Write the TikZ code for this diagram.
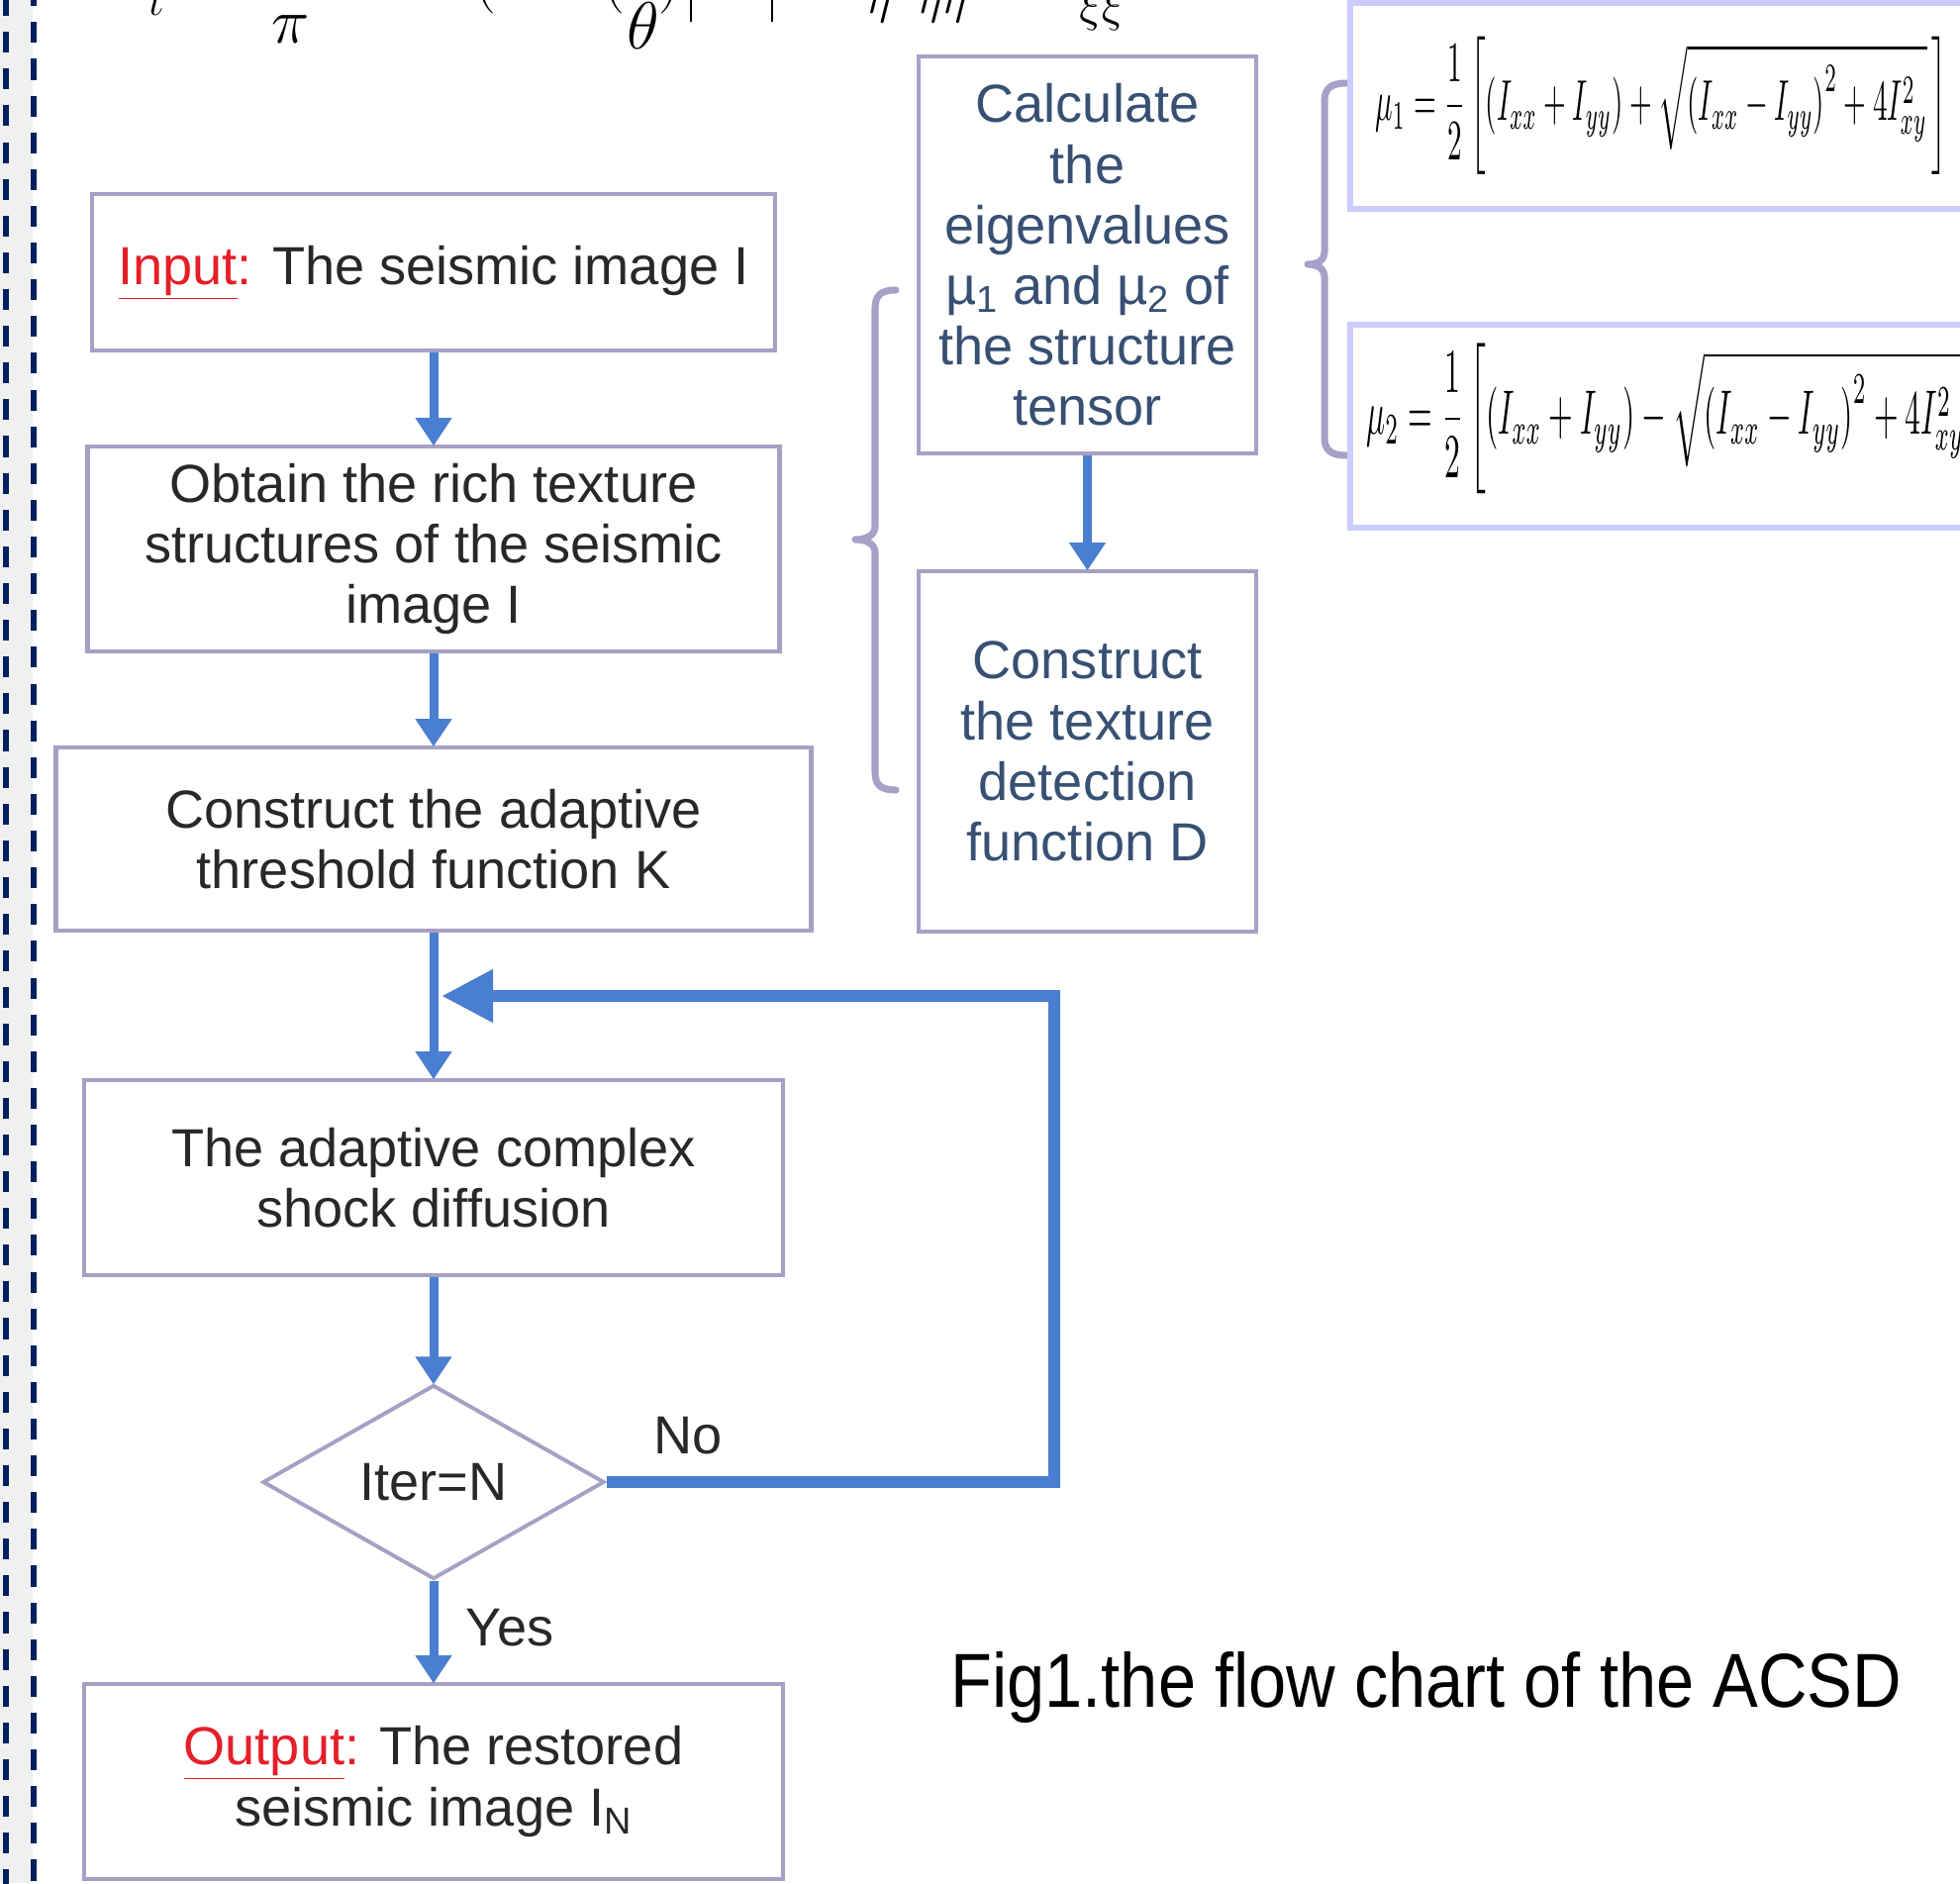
\RequirePackage{fix-cm}
\documentclass[tikz,border=0pt]{standalone}
\usepackage{fontspec}
\usepackage{graphicx}
\setmainfont{Liberation Sans}
\usetikzlibrary{arrows.meta,shapes.geometric}
\definecolor{boxline}{RGB}{167,160,196}
\definecolor{arrblue}{RGB}{74,126,208}
\definecolor{navy}{RGB}{0,32,96}
\definecolor{txtgray}{RGB}{40,40,40}
\definecolor{txtblue}{RGB}{55,80,115}
\definecolor{inred}{RGB}{230,30,40}
\definecolor{fbox}{RGB}{204,204,255}
\definecolor{stripgray}{RGB}{240,240,240}
\definecolor{bracecol}{RGB}{168,160,200}
\tikzset{
  flowbox/.style={draw=boxline, line width=3pt, fill=white, align=center, inner sep=0pt,
    text=txtgray, font=\fontsize{38.5}{43.5}\selectfont},
  rightbox/.style={flowbox, text=txtblue},
  decision/.style={diamond, draw=boxline, line width=2.8pt, inner sep=0pt, aspect=1.76,
    minimum width=245.4pt, minimum height=139.4pt, text=txtgray, font=\fontsize{38.5}{43.5}\selectfont},
  arr/.style={draw=arrblue, line width=6.4pt, -{Triangle[width=25pt,length=20pt]}, shorten >=-1pt},
  fb/.style={draw=arrblue, line width=8.5pt, -{Triangle[width=36pt,length=37pt]}},
  lbl/.style={text=txtgray, font=\fontsize{38.5}{43.5}\selectfont, inner sep=0pt},
  brace/.style={draw=bracecol, line width=5pt, line cap=round, line join=round},
  formbox/.style={draw=fbox, line width=4.3pt},
  frag/.style={inner sep=0pt, text=black}
}
\newcommand{\redlbl}[1]{\textcolor{inred}{\underline{#1}:}}
\begin{document}
\begin{tikzpicture}[x=0.025cm, y=-0.025cm]
\useasboundingbox (0,0) rectangle (1980,1902);
\clip (0,0) rectangle (1980,1902);
% left strip
\fill[stripgray] (0,0) rectangle (33,1902);
\draw[navy, line width=4.3pt, dash pattern=on 15pt off 11.4pt] (6,-5) -- (6,1910);
\draw[navy, line width=4.3pt, dash pattern=on 15pt off 11.4pt, dash phase=7pt] (34,-5) -- (34,1910);
% top formula fragment (cut off)
\node[frag, font=\fontsize{32}{32}\selectfont] (fragt) at (158,2) {$t$};
\node[frag, font=\fontsize{46}{46}\selectfont] (fragpi) at (294,30) {$\pi$};
\node[frag, font=\fontsize{44}{44}\selectfont, anchor=south] (fragp1) at (490,14) {$($};
\node[frag, font=\fontsize{44}{44}\selectfont, anchor=south] (fragp2) at (620,14) {$($};
\node[frag, font=\fontsize{48}{48}\selectfont] (fragth) at (650,26) {$\theta$};
\node[frag, font=\fontsize{44}{44}\selectfont, anchor=south] (fragp3) at (676,14) {$)$};
\draw[line width=1.6pt] (698,-2) -- (698,22);
\draw[line width=1.6pt] (780,-2) -- (780,22);
\node[frag, font=\fontsize{34}{34}\selectfont] (frageta) at (888,8) {$\eta$};
\node[frag, font=\fontsize{34}{34}\selectfont] (fragetaeta) at (952,8) {$\eta\eta$};
\node[frag, font=\fontsize{34}{34}\selectfont] (fragxi) at (1113,10) {$\xi\xi$};
% flow boxes
\node[flowbox, minimum width=490.8pt, minimum height=112.4pt] (A) at (438,275)
  {\redlbl{Input} The seismic image I};
\node[flowbox, minimum width=497.2pt, minimum height=147.2pt] (B) at (438,554.5)
  {Obtain the rich texture\\structures of the seismic\\image I};
\node[flowbox, minimum width=542.7pt, minimum height=131.6pt] (C) at (438,847.5)
  {Construct the adaptive\\threshold function K};
\node[flowbox, minimum width=502.2pt, minimum height=140.1pt] (D) at (438,1189.5)
  {The adaptive complex\\shock diffusion};
\node[decision] (dia) at (438,1497) {Iter=N};
\node[flowbox, minimum width=502.2pt, minimum height=140.1pt] (E) at (438,1799.5)
  {\redlbl{Output} The restored\\seismic image I\textsubscript{N}};
\node[rightbox, minimum width=242.6pt, minimum height=285.2pt] (F) at (1098.5,257.5)
  {Calculate\\the\\eigenvalues\\µ\textsubscript{1} and µ\textsubscript{2} of\\the structure\\tensor};
\node[rightbox, minimum width=242.6pt, minimum height=258.9pt] (G) at (1098.5,759)
  {Construct\\the texture\\detection\\function D};
% connectors
\draw[arr] (A) -- (B);
\draw[arr] (B) -- (C);
\draw[arr] (C) -- (D);
\draw[arr] (D) -- (dia);
\draw[arr] (dia) -- (E);
\draw[arr] (F) -- (G);
\coordinate (join) at (446,1006);
\coordinate (fbturn) at (1065,1006);
\draw[fb] (dia.east) -| (fbturn) -- (join);
\node[lbl] (no) at (695,1450) {No};
\node[lbl] (yes) at (515,1644) {Yes};
% braces
\draw[brace] (905,293) .. controls (890,293) and (884,298) .. (884,312) -- (884,532)
  .. controls (884,540) and (876,545) .. (864,545)
  .. controls (876,545) and (884,550) .. (884,558) -- (884,780)
  .. controls (884,793) and (890,798) .. (905,798);
\draw[brace] (1360,84) .. controls (1345,84) and (1338,89) .. (1338,102) -- (1338,255)
  .. controls (1338,262) and (1332,267) .. (1321,267)
  .. controls (1332,267) and (1338,272) .. (1338,280) -- (1338,442)
  .. controls (1338,455) and (1345,460) .. (1360,460);
% formula boxes
\draw[formbox] (1364,3) rectangle (2010,211);
\draw[formbox] (1364,328) rectangle (2010,533);
\node[frag, anchor=west] (mu1) at (1389,107)
  {\resizebox*{411pt}{99pt}{$\displaystyle\mu_1=\frac{1}{2}\left[(I_{xx}+I_{yy})+\sqrt{\left(I_{xx}-I_{yy}\right)^2+4I_{xy}^2}\,\right]$}};
\node[frag, anchor=west] (mu2) at (1380,423)
  {\resizebox*{445pt}{108pt}{$\displaystyle\mu_2=\frac{1}{2}\left[(I_{xx}+I_{yy})-\sqrt{\left(I_{xx}-I_{yy}\right)^2+4I_{xy}^2}\,\right]$}};
% caption
\node[frag, anchor=base west, font=\fontsize{55}{60}\selectfont] (cap) at (960,1724)
  {\scalebox{0.887}[1]{Fig1.the flow chart of the ACSD}};
\end{tikzpicture}
\end{document}
